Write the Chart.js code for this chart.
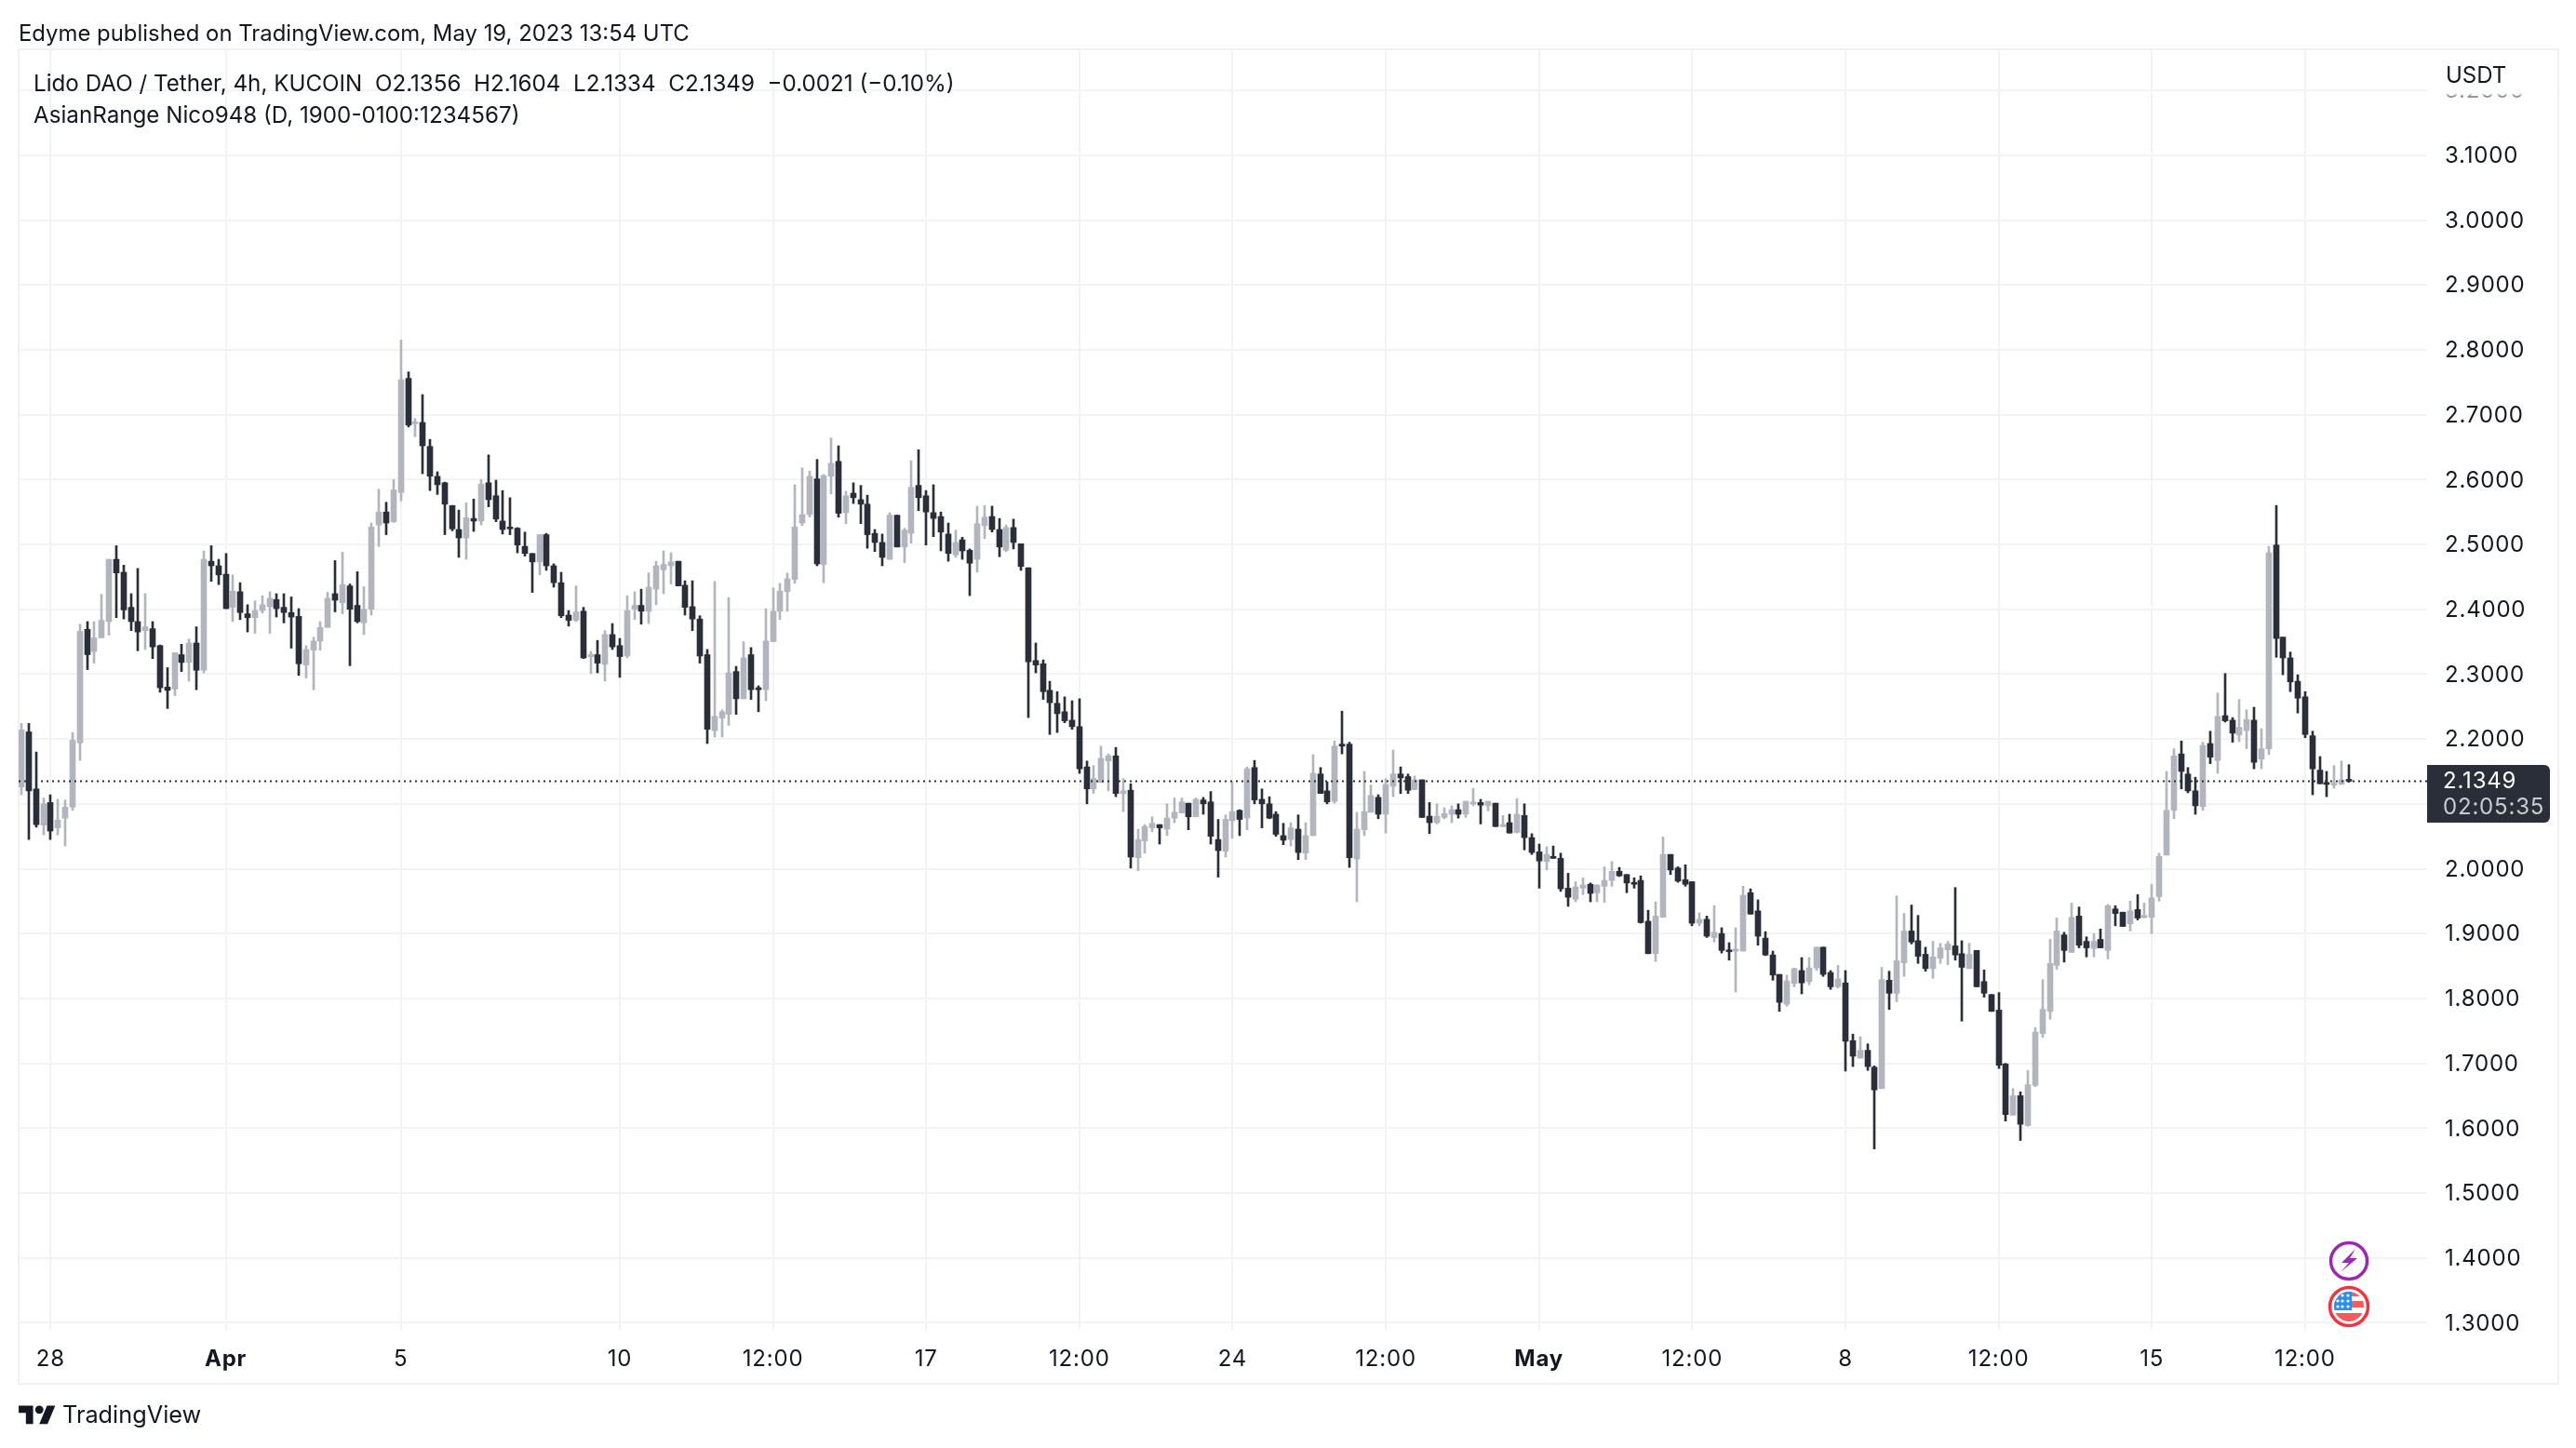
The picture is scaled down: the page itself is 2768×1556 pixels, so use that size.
<!DOCTYPE html>
<html>
<head>
<meta charset="utf-8">
<title>LDO/USDT 4h</title>
<script src="https://cdn.jsdelivr.net/npm/chart.js@4"></script>
<style>
  html, body { margin: 0; padding: 0; background: #fff; }
  body { width: 2768px; height: 1556px; position: relative; overflow: hidden; font-family: Inter, sans-serif; color: #131722; }
  canvas { position: absolute; left: 0; top: 0; }
  .txt { position: absolute; white-space: pre; font-size: 24px; line-height: 30px; }
  #frame { position: absolute; left: 19px; top: 52px; width: 2727px; height: 1432px; border: 2px solid #f0f0f6; }
  #unit { position: absolute; left: 2610px; top: 55px; width: 136px; height: 53px; background: linear-gradient(to bottom, #fff 0, #fff 45px, rgba(255,255,255,0.55) 48px, rgba(255,255,255,0.55) 100%); }
</style>
</head>
<body>
<div id="frame"></div>
<canvas id="myChart" width="2768" height="1556"></canvas>
<div id="unit"></div>
<div class="txt" style="left:20px;top:21px;font-size:23.9px">Edyme published on TradingView.com, May 19, 2023 13:54 UTC</div>
<div class="txt" style="left:36px;top:75px;font-size:24.2px">Lido DAO / Tether, 4h, KUCOIN  O2.1356  H2.1604  L2.1334  C2.1349  −0.0021 (−0.10%)</div>
<div class="txt" style="left:36px;top:109px;font-size:24.2px">AsianRange Nico948 (D, 1900-0100:1234567)</div>
<div class="txt" style="left:2628px;top:66px">USDT</div>

<svg style="position:absolute;left:2500px;top:1330px" width="50" height="100" viewBox="0 0 50 100">
  <defs><clipPath id="flagClip"><circle cx="24" cy="74" r="16"/></clipPath></defs>
  <circle cx="24" cy="25" r="19.5" fill="#fff" stroke="#9c27b0" stroke-width="3.5"/>
  <path d="M31 12 L16 27 L24 27 L15 37 L33 22 L25 22 Z" fill="#9c27b0"/>
  <circle cx="24" cy="74" r="20.5" fill="#fff" stroke="#f7323f" stroke-width="3.5"/>
  <g clip-path="url(#flagClip)">
    <rect x="8" y="58" width="32" height="32" fill="#fff"/>
    <rect x="8" y="58" width="32" height="5" fill="#f65a5a"/>
    <rect x="8" y="68" width="32" height="7" fill="#f65a5a"/>
    <rect x="8" y="81" width="32" height="9" fill="#f65a5a"/>
    <rect x="8" y="58" width="19" height="20" fill="#2b8fec"/>
    <g fill="#fff">
      <circle cx="17" cy="62" r="1.6"/><circle cx="23" cy="62" r="1.6"/>
      <circle cx="12" cy="68" r="1.6"/><circle cx="17" cy="68" r="1.6"/><circle cx="23" cy="68" r="1.6"/>
      <circle cx="12" cy="74" r="1.6"/><circle cx="17" cy="74" r="1.6"/><circle cx="23" cy="74" r="1.6"/>
    </g>
  </g>
</svg>

<svg style="position:absolute;left:20px;top:1506px" width="40" height="31" viewBox="0 0 36 28">
  <path d="M14 22H7V11H0V4h14v18zM28 22h-8l7.5-18h8L28 22z" fill="#131722"/>
  <circle cx="20" cy="8" r="4" fill="#131722"/>
</svg>
<div class="txt" style="left:67px;top:1505px;font-size:25.3px">TradingView</div>

<script>
const opens = [
  2.126,2.211,2.123,2.067,2.102,2.063,2.078,2.095,2.194,2.369,
  2.335,2.356,2.381,2.477,2.457,2.403,2.381,2.367,2.37,2.344,
  2.28,2.277,2.33,2.318,2.348,2.306,2.474,2.467,2.454,2.403,
  2.427,2.393,2.387,2.398,2.404,2.415,2.403,2.395,2.389,2.314,
  2.337,2.351,2.372,2.424,2.41,2.436,2.406,2.379,2.4,2.53,
  2.55,2.535,2.58,2.756,2.686,2.688,2.651,2.605,2.595,2.56,
  2.523,2.51,2.54,2.536,2.595,2.575,2.536,2.525,2.525,2.497,
  2.486,2.473,2.515,2.467,2.441,2.391,2.383,2.397,2.327,2.33,
  2.315,2.361,2.344,2.328,2.4,2.406,2.397,2.431,2.461,2.467,
  2.474,2.437,2.404,2.385,2.33,2.213,2.232,2.238,2.304,2.262,
  2.33,2.279,2.276,2.35,2.397,2.427,2.446,2.533,2.546,2.601,
  2.469,2.605,2.628,2.549,2.579,2.569,2.562,2.517,2.503,2.477,
  2.545,2.496,2.517,2.591,2.575,2.549,2.543,2.516,2.484,2.507,
  2.491,2.477,2.529,2.543,2.523,2.491,2.526,2.501,2.464,2.321,
  2.316,2.275,2.255,2.242,2.229,2.219,2.157,2.123,2.133,2.166,
  2.174,2.116,2.121,2.017,2.043,2.063,2.068,2.061,2.078,2.086,
  2.101,2.08,2.106,2.103,2.045,2.027,2.074,2.09,2.078,2.156,
  2.107,2.1,2.084,2.051,2.045,2.061,2.024,2.051,2.146,2.12,
  2.104,2.192,2.192,2.015,2.06,2.087,2.11,2.084,2.127,2.146,
  2.142,2.122,2.137,2.081,2.071,2.079,2.084,2.091,2.084,2.1,
  2.102,2.097,2.101,2.065,2.071,2.056,2.082,2.048,2.026,2.011,
  2.019,2.016,1.97,1.953,1.97,1.976,1.963,1.973,1.982,1.996,
  1.991,1.979,1.982,1.919,1.869,1.925,2.022,2.001,1.983,1.98,
  1.916,1.922,1.894,1.9,1.874,1.873,1.873,1.963,1.935,1.893,
  1.867,1.837,1.791,1.823,1.843,1.826,1.847,1.879,1.84,1.818,
  1.824,1.735,1.708,1.72,1.694,1.661,1.828,1.808,1.855,1.904,
  1.889,1.868,1.846,1.862,1.875,1.881,1.869,1.846,1.874,1.826,
  1.806,1.782,1.699,1.62,1.65,1.604,1.666,1.746,1.78,1.851,
  1.898,1.871,1.927,1.888,1.877,1.891,1.874,1.938,1.933,1.915,
  1.937,1.925,1.925,1.957,2.021,2.09,2.177,2.146,2.12,2.096,
  2.193,2.167,2.236,2.229,2.206,2.213,2.229,2.169,2.185,2.499,
  2.357,2.325,2.289,2.265,2.205,2.152,2.131,2.129,2.13,2.1356
];
const highs = [
  2.224,2.224,2.18,2.109,2.114,2.107,2.106,2.21,2.377,2.381,
  2.381,2.423,2.477,2.498,2.468,2.424,2.463,2.424,2.381,2.345,
  2.31,2.333,2.346,2.354,2.373,2.49,2.498,2.477,2.486,2.453,
  2.441,2.407,2.413,2.421,2.427,2.424,2.424,2.419,2.401,2.344,
  2.357,2.381,2.426,2.475,2.488,2.439,2.458,2.435,2.533,2.585,
  2.565,2.6,2.815,2.766,2.694,2.731,2.662,2.612,2.596,2.56,
  2.553,2.564,2.57,2.6,2.638,2.599,2.583,2.572,2.526,2.519,
  2.486,2.515,2.517,2.47,2.457,2.398,2.436,2.403,2.335,2.352,
  2.367,2.378,2.355,2.421,2.427,2.431,2.456,2.474,2.49,2.487,
  2.474,2.444,2.444,2.39,2.338,2.443,2.245,2.418,2.312,2.35,
  2.341,2.282,2.401,2.433,2.44,2.456,2.592,2.618,2.613,2.631,
  2.608,2.664,2.652,2.582,2.595,2.591,2.576,2.523,2.516,2.549,
  2.545,2.525,2.629,2.646,2.583,2.592,2.55,2.533,2.522,2.511,
  2.493,2.559,2.56,2.559,2.54,2.53,2.539,2.501,2.464,2.348,
  2.322,2.289,2.273,2.265,2.259,2.262,2.166,2.159,2.189,2.177,
  2.187,2.139,2.131,2.061,2.068,2.08,2.068,2.1,2.109,2.109,
  2.101,2.109,2.11,2.119,2.076,2.083,2.134,2.091,2.157,2.167,
  2.123,2.111,2.088,2.07,2.071,2.083,2.071,2.176,2.156,2.134,
  2.197,2.243,2.195,2.087,2.15,2.129,2.114,2.139,2.183,2.157,
  2.146,2.143,2.137,2.102,2.1,2.094,2.097,2.1,2.104,2.124,
  2.107,2.104,2.101,2.082,2.084,2.108,2.1,2.054,2.038,2.034,
  2.035,2.024,1.993,1.98,1.986,1.978,1.975,2.003,2.011,2.002,
  1.991,1.986,1.989,1.936,1.949,2.049,2.022,2.003,2.006,1.98,
  1.932,1.927,1.943,1.909,1.886,1.909,1.973,1.969,1.952,1.903,
  1.873,1.837,1.836,1.847,1.863,1.863,1.879,1.879,1.843,1.851,
  1.843,1.745,1.741,1.73,1.696,1.848,1.842,1.958,1.931,1.944,
  1.928,1.879,1.888,1.885,1.888,1.971,1.889,1.885,1.874,1.844,
  1.806,1.809,1.7,1.661,1.656,1.689,1.755,1.829,1.891,1.924,
  1.902,1.947,1.941,1.895,1.9,1.907,1.945,1.943,1.933,1.95,
  1.96,1.947,1.976,2.024,2.15,2.185,2.197,2.156,2.141,2.195,
  2.212,2.271,2.301,2.233,2.261,2.245,2.249,2.216,2.497,2.56,
  2.357,2.334,2.299,2.273,2.212,2.173,2.15,2.159,2.166,2.1604
];
const lows = [
  2.114,2.045,2.064,2.052,2.045,2.052,2.035,2.09,2.167,2.307,
  2.317,2.356,2.36,2.387,2.385,2.367,2.336,2.338,2.324,2.272,
  2.247,2.267,2.304,2.289,2.276,2.302,2.443,2.438,2.401,2.381,
  2.384,2.365,2.363,2.394,2.363,2.388,2.379,2.34,2.298,2.294,
  2.276,2.337,2.372,2.396,2.393,2.313,2.379,2.361,2.391,2.497,
  2.515,2.534,2.567,2.681,2.666,2.609,2.583,2.577,2.515,2.521,
  2.48,2.477,2.52,2.53,2.558,2.535,2.516,2.515,2.487,2.482,
  2.426,2.453,2.46,2.434,2.387,2.374,2.381,2.324,2.301,2.302,
  2.289,2.338,2.295,2.325,2.384,2.377,2.378,2.407,2.424,2.439,
  2.436,2.391,2.367,2.317,2.193,2.203,2.203,2.221,2.238,2.262,
  2.261,2.242,2.259,2.35,2.384,2.397,2.44,2.529,2.542,2.467,
  2.441,2.578,2.542,2.532,2.563,2.532,2.494,2.489,2.467,2.477,
  2.496,2.472,2.502,2.552,2.499,2.512,2.49,2.474,2.48,2.477,
  2.421,2.457,2.509,2.519,2.481,2.489,2.493,2.46,2.233,2.302,
  2.261,2.207,2.21,2.225,2.215,2.147,2.1,2.116,2.133,2.12,
  2.111,2.088,2.001,1.997,2.024,2.057,2.038,2.051,2.071,2.086,
  2.06,2.08,2.084,2.038,1.987,2.018,2.047,2.051,2.06,2.1,
  2.063,2.077,2.05,2.037,2.035,2.014,2.014,2.051,2.116,2.1,
  2.101,2.177,2.002,1.949,2.051,2.087,2.077,2.055,2.111,2.116,
  2.116,2.122,2.079,2.054,2.069,2.077,2.071,2.078,2.079,2.097,
  2.069,2.089,2.065,2.065,2.055,2.055,2.029,2.022,1.97,1.998,
  2.016,1.965,1.942,1.949,1.96,1.949,1.949,1.948,1.973,1.988,
  1.963,1.97,1.916,1.869,1.857,1.925,1.991,1.979,1.973,1.912,
  1.912,1.894,1.887,1.87,1.859,1.81,1.873,1.93,1.882,1.866,
  1.828,1.78,1.788,1.818,1.807,1.821,1.843,1.834,1.814,1.816,
  1.688,1.695,1.708,1.689,1.568,1.661,1.783,1.795,1.834,1.884,
  1.854,1.842,1.831,1.854,1.852,1.859,1.765,1.846,1.818,1.802,
  1.78,1.692,1.611,1.62,1.581,1.603,1.664,1.74,1.768,1.845,
  1.856,1.871,1.878,1.864,1.864,1.878,1.861,1.912,1.911,1.904,
  1.921,1.924,1.9,1.95,2.021,2.077,2.123,2.117,2.084,2.09,
  2.162,2.147,2.226,2.195,2.196,2.185,2.154,2.154,2.176,2.326,
  2.299,2.273,2.24,2.202,2.114,2.131,2.111,2.124,2.13,2.1334
];
const closes = [
  2.214,2.12,2.068,2.1,2.058,2.075,2.095,2.198,2.366,2.33,
  2.356,2.383,2.477,2.456,2.399,2.381,2.365,2.373,2.342,2.279,
  2.275,2.333,2.318,2.348,2.306,2.477,2.467,2.453,2.401,2.428,
  2.395,2.387,2.398,2.407,2.417,2.401,2.395,2.388,2.316,2.338,
  2.351,2.372,2.417,2.414,2.438,2.4,2.381,2.4,2.527,2.55,
  2.533,2.584,2.754,2.684,2.687,2.652,2.605,2.592,2.562,2.524,
  2.51,2.541,2.536,2.593,2.569,2.539,2.523,2.524,2.499,2.486,
  2.473,2.515,2.467,2.441,2.39,2.383,2.396,2.325,2.33,2.317,
  2.361,2.342,2.327,2.398,2.406,2.397,2.434,2.467,2.469,2.473,
  2.436,2.403,2.385,2.328,2.215,2.235,2.242,2.302,2.262,2.325,
  2.276,2.276,2.351,2.397,2.428,2.447,2.527,2.546,2.605,2.47,
  2.606,2.625,2.548,2.575,2.572,2.562,2.515,2.503,2.48,2.545,
  2.496,2.522,2.588,2.572,2.55,2.54,2.519,2.486,2.503,2.49,
  2.471,2.532,2.542,2.523,2.496,2.526,2.503,2.466,2.319,2.314,
  2.273,2.256,2.239,2.228,2.219,2.154,2.123,2.139,2.17,2.174,
  2.116,2.12,2.018,2.045,2.065,2.07,2.063,2.078,2.087,2.103,
  2.08,2.107,2.1,2.05,2.028,2.076,2.088,2.076,2.154,2.106,
  2.1,2.078,2.053,2.044,2.063,2.025,2.051,2.147,2.116,2.103,
  2.189,2.189,2.017,2.061,2.088,2.113,2.084,2.13,2.146,2.14,
  2.121,2.137,2.079,2.071,2.081,2.085,2.091,2.084,2.104,2.102,
  2.098,2.104,2.065,2.068,2.055,2.084,2.048,2.025,2.012,2.022,
  2.016,1.969,1.956,1.972,1.975,1.962,1.975,1.982,1.996,1.989,
  1.978,1.976,1.917,1.869,1.927,2.022,1.998,1.981,1.976,1.916,
  1.922,1.896,1.902,1.874,1.872,1.876,1.959,1.93,1.896,1.867,
  1.836,1.794,1.827,1.846,1.824,1.847,1.879,1.837,1.818,1.83,
  1.734,1.711,1.72,1.695,1.659,1.829,1.808,1.858,1.904,1.887,
  1.865,1.846,1.864,1.878,1.884,1.867,1.848,1.868,1.818,1.808,
  1.78,1.697,1.621,1.65,1.606,1.667,1.748,1.783,1.854,1.904,
  1.874,1.925,1.882,1.878,1.888,1.878,1.943,1.931,1.911,1.935,
  1.924,1.928,1.955,2.019,2.09,2.174,2.15,2.12,2.097,2.19,
  2.172,2.235,2.228,2.209,2.218,2.23,2.164,2.185,2.487,2.355,
  2.325,2.288,2.263,2.207,2.154,2.131,2.13,2.131,2.137,2.1349
];

// candle number of each label on the time axis, counted from the first candle
const timeTickIndex = [4,28,52,82,103,124,145,166,187,208,229,250,271,292,313];
const timeTickLabels = ["28","Apr","5","10","12:00","17","12:00","24","12:00","May","12:00","8","12:00","15","12:00"];
const boldLabels = ["Apr","May"];
const priceTicks = [1.3,1.4,1.5,1.6,1.7,1.8,1.9,2.0,2.1,2.2,2.3,2.4,2.5,2.6,2.7,2.8,2.9,3.0,3.1,3.2];

const lastPrice = 2.1349;
const countdown = "02:05:35";

const upColor = "#b2b5be";
const downColor = "#2a2e39";
const gridColor = "#f2f3f5";
const textColor = "#131722";

const xMin = -0.383, xMax = 329.72;
const yMin = 1.2891, yMax = 3.2633;

const candleColors = opens.map((o, i) => closes[i] >= o ? upColor : downColor);
const wickData = highs.map((h, i) => ({ x: i, y: [lows[i], h] }));
const bodyData = opens.map((o, i) => ({ x: i, y: [Math.min(o, closes[i]), Math.max(o, closes[i])] }));

// TradingView snaps candles to whole pixels
const snapCandles = {
  id: "snapCandles",
  afterDatasetsUpdate(chart) {
    [0, 1].forEach((d) => {
      chart.getDatasetMeta(d).data.forEach((el) => { el.x = Math.round(el.x); });
    });
  },
  // axis digits are spaced a little wider than plain Inter
  beforeDraw(chart) {
    chart.ctx.letterSpacing = "0.8px";
  }
};

const priceTag = {
  id: "priceTag",
  afterDraw(chart) {
    const ctx = chart.ctx;
    const y = Math.round(chart.scales.y.getPixelForValue(lastPrice));
    ctx.save();
    ctx.fillStyle = downColor;
    ctx.beginPath();
    ctx.roundRect(2608, y - 17, 132, 62, [0, 6, 6, 0]);
    ctx.fill();
    ctx.font = "24px Inter";
    ctx.textAlign = "left";
    ctx.textBaseline = "middle";
    ctx.fillStyle = "#ffffff";
    ctx.fillText(lastPrice.toFixed(4), 2625, y + 1);
    ctx.fillStyle = "#c9cad0";
    ctx.fillText(countdown, 2625, y + 29);
    ctx.restore();
  }
};

new Chart(document.getElementById("myChart"), {
  data: {
    datasets: [
      { type: "bar", data: wickData, backgroundColor: candleColors, barThickness: 2, grouped: false, order: 3 },
      { type: "bar", data: bodyData, backgroundColor: candleColors, barThickness: 6, minBarLength: 2, grouped: false, order: 2 },
      {
        type: "line",
        data: [{ x: xMin, y: lastPrice }, { x: xMax, y: lastPrice }],
        borderColor: downColor,
        borderWidth: 2,
        borderDash: [2, 4],
        pointRadius: 0,
        order: 1
      }
    ]
  },
  options: {
    responsive: false,
    animation: false,
    devicePixelRatio: 1,
    layout: { padding: { left: 20, top: 53, right: 20, bottom: 70 } },
    plugins: { legend: { display: false }, tooltip: { enabled: false } },
    scales: {
      x: {
        type: "linear",
        offset: false,
        min: xMin,
        max: xMax,
        grid: { color: gridColor, lineWidth: 2, drawTicks: false, offset: false },
        border: { display: false },
        afterBuildTicks: (scale) => { scale.ticks = timeTickIndex.map((v) => ({ value: v })); },
        afterFit: (scale) => { scale.height = 57; },
        ticks: {
          autoSkip: false,
          maxRotation: 0,
          padding: 17,
          color: textColor,
          font: (c) => {
            const label = timeTickLabels[c.index];
            return { family: "Inter", size: 24, weight: boldLabels.includes(label) ? "bold" : "normal" };
          },
          callback: (value, index) => timeTickLabels[index]
        }
      },
      y: {
        type: "linear",
        position: "right",
        min: yMin,
        max: yMax,
        grid: { color: gridColor, lineWidth: 2, drawTicks: false },
        border: { display: false },
        afterBuildTicks: (scale) => { scale.ticks = priceTicks.map((v) => ({ value: v })); },
        afterFit: (scale) => { scale.width = 140; },
        ticks: {
          padding: 19,
          labelOffset: 1,
          color: textColor,
          font: { family: "Inter", size: 24 },
          callback: (value) => value.toFixed(4)
        }
      }
    }
  },
  plugins: [snapCandles, priceTag]
});
</script>
</body>
</html>
